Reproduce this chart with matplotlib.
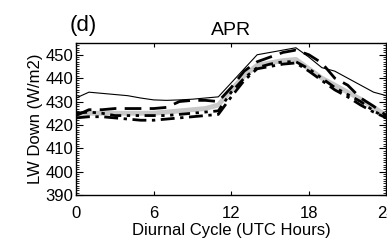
import numpy as np
import matplotlib.pyplot as plt
from matplotlib.ticker import MultipleLocator

plt.rcParams['font.family'] = ['Liberation Sans', 'DejaVu Sans']

# Diurnal cycle, hourly (UTC)
hours = np.arange(0, 25)

# thin solid black
obs = [431.5, 434, 433.5, 433, 432.5, 431.5, 430.7, 430.5, 430.7, 431, 431.5, 432,
       438, 444, 450, 451, 452, 453, 449, 444.5, 443, 440, 437, 434, 432.5]
# thick gray
gray_run = [424, 425, 425, 425, 425, 425, 425, 425.5, 426, 426.5, 427, 428.5,
            435, 441, 445.5, 446.5, 447.5, 448, 444, 440, 437, 434, 431, 427.5, 424]
# long dash
dash_run = [424, 426.5, 426.5, 427, 427, 427, 427, 427.5, 430, 430.5, 430.5, 430,
            436, 443, 447, 449, 451, 452, 450, 446.5, 440, 437, 431.5, 428, 424]
# dash-dot
dashdot_run = [423, 423.5, 423.5, 423, 422.5, 422, 422, 422.5, 423, 423.5, 424, 424.5,
               432, 439, 444, 445, 446, 446.5, 443, 439, 435, 432, 428.5, 425.5, 423]
# dash-dot-dot
dashdotdot_run = [425, 425.5, 425, 424, 424, 424, 424, 424, 424.5, 425, 425.5, 426,
                  434, 440, 444.5, 446, 447, 447, 444, 440, 436, 433, 430, 426, 423]

xticks = [0, 6, 12, 18, 24]
yticks = [390, 400, 410, 420, 430, 440, 450]

fig = plt.figure(figsize=(3.87, 2.42), dpi=100)
ax = fig.add_axes([0.1964, 0.194, 0.8023, 0.628])

ax.plot(hours, gray_run, color='#c8c8c8', linewidth=3.5, solid_capstyle='butt')
ax.plot(hours, obs, color='black', linewidth=0.8)
ax.plot(hours, dash_run, color='black', linewidth=2, dashes=(6, 3))
ax.plot(hours, dashdot_run, color='black', linewidth=2, dashes=(5, 2, 1.2, 2))
ax.plot(hours, dashdotdot_run, color='black', linewidth=2, dashes=(4, 2, 1.2, 2, 1.2, 2))

ax.set_xlim(0, 24)
ax.set_ylim(390, 455)
ax.set_xticks(xticks)
ax.set_yticks(yticks)
ax.yaxis.set_minor_locator(MultipleLocator(1))

ax.tick_params(axis='both', which='both', direction='in', top=True, right=True,
               labelsize=12, width=0.8)
ax.tick_params(axis='x', which='major', length=3, pad=8)
ax.tick_params(axis='y', which='major', length=5, pad=2)
ax.tick_params(axis='y', which='minor', length=2.5, width=0.6)
for s in ax.spines.values():
    s.set_linewidth(1)

ax.set_xlabel('Diurnal Cycle (UTC Hours)', fontsize=12, labelpad=1)
ax.set_ylabel('LW Down (W/m2)', fontsize=12, labelpad=2)
ax.set_title('APR', fontsize=14, pad=6)
fig.text(0.18, 0.895, '(d)', fontsize=16, ha='left', va='center')

fig.savefig('out.png', dpi=100)
